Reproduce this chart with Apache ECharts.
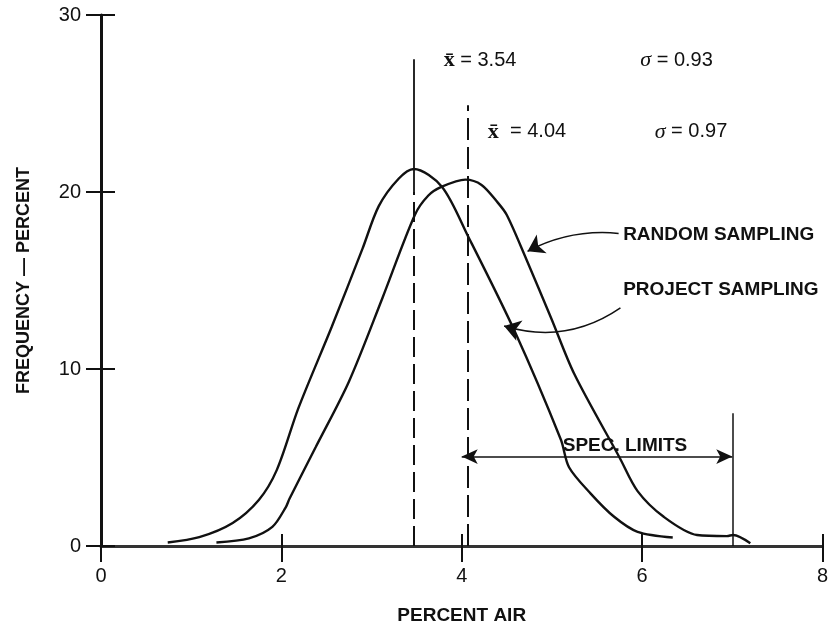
<!DOCTYPE html>
<html>
<head>
<meta charset="utf-8">
<script src="https://cdn.jsdelivr.net/npm/echarts@6/dist/echarts.min.js"></script>
<style>
  html, body { margin: 0; padding: 0; background: #fff; }
  #airChart { width: 831px; height: 630px; }
</style>
</head>
<body>
<div id="airChart"></div>
<script>
// frequency curves: [percent air, frequency %]
var projectSampling = [
  [0.74, 0.2], [1.09, 0.5], [1.46, 1.3], [1.75, 2.6], [1.95, 4.3], [2.19, 7.8],
  [2.56, 12.4], [2.9, 16.8], [3.08, 19.2], [3.3, 20.75], [3.47, 21.3], [3.78, 20.3],
  [4.07, 17.5], [4.59, 12.1], [5.1, 6.0], [5.19, 4.45], [5.43, 2.96], [5.69, 1.65],
  [5.95, 0.8], [6.34, 0.48]
];
var randomSampling = [
  [1.28, 0.2], [1.64, 0.43], [1.9, 1.08], [2.05, 2.2], [2.09, 2.67], [2.38, 5.58],
  [2.75, 9.3], [3.12, 14.0], [3.48, 18.7], [3.63, 19.8], [3.78, 20.3], [4.04, 20.7],
  [4.22, 20.4], [4.4, 19.4], [4.5, 18.7], [4.7, 16.4], [4.99, 12.9], [5.25, 9.7],
  [5.75, 5.0], [5.95, 3.1], [6.24, 1.65], [6.61, 0.62], [6.94, 0.56], [7.01, 0.62],
  [7.2, 0.15]
];

// mean lines and spec limits
var projectMean = 3.47;
var randomMean = 4.07;
var specLimits = [4.0, 7.0];
var specArrowY = 5.05;

// pointer arrows from the labels to the curves [from, to]
var randomPointer = [[5.74, 17.66], [4.73, 16.65]];
var projectPointer = [[5.76, 13.45], [4.47, 12.43]];

// annotation texts [x, y, text]
var meanNotes = [
  [3.80, 27.45, '{x|x\u0304} = 3.54'],
  [5.98, 27.45, '{s|\u03c3} = 0.93'],
  [4.29, 23.4, '{x|x\u0304}  = 4.04'],
  [6.14, 23.4, '{s|\u03c3} = 0.97']
];
var curveNotes = [
  [5.79, 17.6, 'RANDOM SAMPLING'],
  [5.79, 14.45, 'PROJECT SAMPLING'],
  [5.12, 5.67, 'SPEC. LIMITS']
];

var xTicks = { min: 0, max: 8, interval: 2 };
var yTicks = { min: 0, max: 30, interval: 10 };

var ink = '#111';
var font = 'Liberation Sans';

var airChart = echarts.init(document.getElementById('airChart'));

function seg(x1, y1, x2, y2, style, symbols) {
  return [
    { coord: [x1, y1], lineStyle: style, symbol: symbols ? symbols[0] : 'none' },
    { coord: [x2, y2], symbol: symbols ? symbols[1] : 'none' }
  ];
}

var airChartOptions = {
  backgroundColor: '#fff',
  animation: false,
  grid: { left: 101, right: 6, top: 15, bottom: 81 },
  xAxis: [
    {
      type: 'value', min: xTicks.min, max: xTicks.max, interval: xTicks.interval,
      name: 'PERCENT AIR', nameLocation: 'middle', nameGap: 60,
      nameTextStyle: { fontFamily: font, fontWeight: 'bold', fontSize: 19, color: ink },
      axisLine: { lineStyle: { color: '#333', width: 3 } },
      axisTick: { length: 16, lineStyle: { color: ink, width: 2 } },
      axisLabel: { margin: 20, fontFamily: font, fontSize: 20, color: ink },
      splitLine: { show: false }
    },
    {
      type: 'value', min: xTicks.min, max: xTicks.max, interval: xTicks.interval,
      position: 'bottom',
      axisLine: { show: false },
      axisTick: { inside: true, length: 12, lineStyle: { color: ink, width: 2 } },
      axisLabel: { show: false },
      splitLine: { show: false }
    }
  ],
  yAxis: [
    {
      type: 'value', min: yTicks.min, max: yTicks.max, interval: yTicks.interval,
      name: 'FREQUENCY \u2014 PERCENT', nameLocation: 'middle', nameGap: 68, nameRotate: 90,
      nameTextStyle: { fontFamily: font, fontWeight: 'bold', fontSize: 18, color: ink },
      axisLine: { lineStyle: { color: ink, width: 3 } },
      axisTick: { length: 15, lineStyle: { color: ink, width: 2 } },
      axisLabel: { margin: 20, fontFamily: font, fontSize: 20, color: ink },
      splitLine: { show: false }
    },
    {
      type: 'value', min: yTicks.min, max: yTicks.max, interval: yTicks.interval,
      position: 'left',
      axisLine: { show: false },
      axisTick: { inside: true, length: 14, lineStyle: { color: ink, width: 2 } },
      axisLabel: { show: false },
      splitLine: { show: false }
    }
  ],
  series: [
    {
      name: 'Project Sampling',
      type: 'line',
      data: projectSampling,
      smooth: 0.3,
      showSymbol: false,
      lineStyle: { color: ink, width: 2.4 },
      markLine: {
        silent: true,
        symbol: 'none',
        label: { show: false },
        data: [
          seg(projectMean, 20, projectMean, 27.5, { color: ink, width: 1.8, type: 'solid' }),
          seg(projectMean, 0, projectMean, 20, { color: ink, width: 2, type: [20, 7] }),
          seg(randomMean, 0, randomMean, 24.9, { color: ink, width: 2, type: [22, 7] }),
          seg(specLimits[0], -0.8, specLimits[0], 10.0, { color: ink, width: 1.5, type: 'solid' }),
          seg(specLimits[1], 0, specLimits[1], 7.5, { color: ink, width: 1.5, type: 'solid' })
        ]
      }
    },
    {
      name: 'Random Sampling',
      type: 'line',
      data: randomSampling,
      smooth: 0.3,
      showSymbol: false,
      lineStyle: { color: ink, width: 2.4 },
      markLine: {
        silent: true,
        symbolSize: [11, 16],
        label: { show: false },
        data: [
          seg(specLimits[0], specArrowY, specLimits[1], specArrowY,
            { color: ink, width: 1.5, type: 'solid' }, ['arrow', 'arrow'])
        ]
      }
    },
    {
      name: 'pointers',
      type: 'lines',
      coordinateSystem: 'cartesian2d',
      silent: true,
      symbol: ['none', 'arrow'],
      symbolSize: [11, 16],
      lineStyle: { color: ink, width: 1.5, opacity: 1 },
      data: [
        { coords: randomPointer, lineStyle: { curveness: -0.15 } },
        { coords: projectPointer, lineStyle: { curveness: 0.24 } }
      ]
    },
    {
      name: 'mean notes',
      type: 'scatter',
      data: meanNotes,
      symbolSize: 0,
      silent: true,
      itemStyle: { opacity: 1 },
      label: {
        show: true, position: 'right', distance: 0,
        formatter: function (p) { return p.value[2]; },
        fontFamily: font, fontSize: 20, color: ink,
        rich: {
          x: { fontFamily: 'Liberation Serif', fontWeight: 'bold', fontSize: 22, color: ink },
          s: { fontFamily: 'Liberation Serif', fontStyle: 'italic', fontSize: 22, color: ink }
        }
      }
    },
    {
      name: 'curve notes',
      type: 'scatter',
      data: curveNotes,
      symbolSize: 0,
      silent: true,
      itemStyle: { opacity: 1 },
      label: {
        show: true, position: 'right', distance: 0,
        formatter: function (p) { return p.value[2]; },
        fontFamily: font, fontWeight: 'bold', fontSize: 19, color: ink
      }
    }
  ]
};

airChart.setOption(airChartOptions);
</script>
</body>
</html>
